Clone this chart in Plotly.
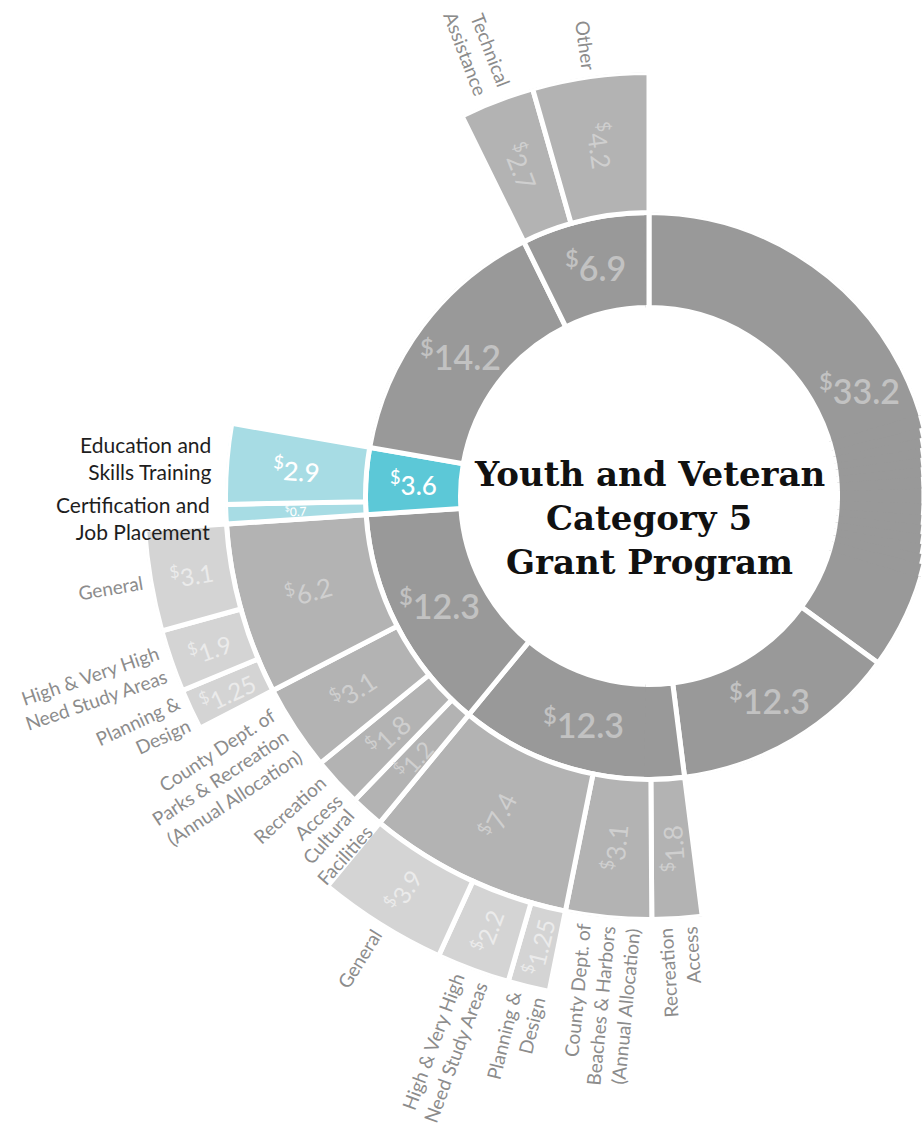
import math
import plotly.graph_objects as go

# ---------------- data ----------------
title_lines = ["Youth and Veteran", "Category 5", "Grant Program"]

# Level 1 - inner ring, clockwise from 12 o'clock ($ millions)
l1_values = [33.2, 12.3, 12.3, 12.3, 3.6, 14.2, 6.9]
l1_highlight = [0, 0, 0, 0, 1, 0, 0]

# Level 2 - children of level-1 segments (index of parent), clockwise
l2_parent = [2, 2, 2, 3, 3, 3, 3, 4, 4, 6, 6]
l2_values = [1.8, 3.1, 7.4, 1.2, 1.8, 3.1, 6.2, 0.7, 2.9, 2.7, 4.2]
l2_labels = [
    "Recreation<br>Access",
    "County Dept. of<br>Beaches & Harbors<br>(Annual Allocation)",
    "",
    "Cultural<br>Facilities",
    "Recreation<br>Access",
    "County Dept. of<br>Parks & Recreation<br>(Annual Allocation)",
    "",
    "Certification and<br>Job Placement",
    "Education and<br>Skills Training",
    "Technical<br>Assistance",
    "Other",
]

# Level 3 - children of level-2 segments (index of parent), clockwise
l3_parent = [2, 2, 2, 6, 6, 6]
l3_values = [1.25, 2.2, 3.9, 1.25, 1.9, 3.1]
l3_labels = [
    "Planning &<br>Design",
    "High & Very High<br>Need Study Areas",
    "General",
    "Planning &<br>Design",
    "High & Very High<br>Need Study Areas",
    "General",
]

# ---------------- geometry / style ----------------
W, H = 922, 1126
CX, CY = 649, 496
LINE_W = 5
RINGS = [(188.5, 283.5), (283.5, 423.5), (423.5, 505.5)]
VIS_OUT = [r[1] - LINE_W / 2 for r in RINGS]
GRAY = ["#999999", "#b3b3b3", "#d4d4d4"]
TEAL = ["#5cc8d7", "#a7dce4"]
VAL_COLOR = ["#c2c2c2", "#cfcfcf", "#ebebeb"]
VAL_SIZE = [34, 26, 24]
VAL_WEIGHT = [600, 400, 400]
LABEL_COLOR = "#8c8c8c"
LABEL_SIZE = 19
DARK_LABEL_SIZE = 21

# ---------------- angles from values ----------------
deg_per_unit = 360.0 / sum(l1_values)
l1_start, l1_span = [], []
acc = 0.0
for v in l1_values:
    l1_start.append(acc * deg_per_unit)
    l1_span.append(v * deg_per_unit)
    acc += v


def split(parents, values, p_start, p_span):
    tot = {}
    for p, v in zip(parents, values):
        tot[p] = tot.get(p, 0) + v
    used = {}
    st, sp = [], []
    for p, v in zip(parents, values):
        s = p_span[p] * v / tot[p]
        st.append(p_start[p] + used.get(p, 0.0))
        sp.append(s)
        used[p] = used.get(p, 0.0) + s
    return st, sp


l2_start, l2_span = split(l2_parent, l2_values, l1_start, l1_span)
l3_start, l3_span = split(l3_parent, l3_values, l2_start, l2_span)

l2_highlight = [l1_highlight[p] for p in l2_parent]
l3_highlight = [0 for _ in l3_parent]
l2_has_children = [i in l3_parent for i in range(len(l2_values))]

levels = [
    (l1_values, l1_start, l1_span, l1_highlight),
    (l2_values, l2_start, l2_span, l2_highlight),
    (l3_values, l3_start, l3_span, l3_highlight),
]


# ---------------- polar subplots (sectors keep everything inside the page) ----------------
def sector_bbox(s0, s1):
    arc = s1 - s0
    a0 = s0 % 360
    a1 = a0 + arc
    ax0, ay0 = math.cos(math.radians(a0)), math.sin(math.radians(a0))
    ax1, ay1 = math.cos(math.radians(a1)), math.sin(math.radians(a1))
    if (a0 <= 90 and a1 >= 90) or (a0 > 90 and a1 >= 450):
        y1 = 1
    elif ay0 <= 0 and ay1 <= 0:
        y1 = 0
    else:
        y1 = max(ay0, ay1)
    if (a0 <= 180 and a1 >= 180) or (a0 > 180 and a1 >= 540):
        x0 = -1
    elif ax0 >= 0 and ax1 >= 0:
        x0 = 0
    else:
        x0 = min(ax0, ax1)
    if (a0 <= 270 and a1 >= 270) or (a0 > 270 and a1 >= 630):
        y0 = -1
    elif ay0 >= 0 and ay1 >= 0:
        y0 = 0
    else:
        y0 = min(ay0, ay1)
    if a1 >= 360:
        x1 = 1
    elif ax0 <= 0 and ax1 <= 0:
        x1 = 0
    else:
        x1 = max(ax0, ax1)
    return x0, y0, x1, y1


RIGHT_LIMIT = W - CX - 0.6   # px available right of the centre
R1 = 284.0
polar_specs = [
    ([89, 271], R1, 0),
    ([16.5, 91], R1, 0),
    ([-91, -16.5], R1, 0),
    ([-2, 2], RIGHT_LIMIT, 0),
]
# thin slices near 3 o'clock so the inner ring runs right up to the page edge
edges = [1.5, 4, 6, 8, 10, 12, 14, 16.5]
for a, b in zip(edges[:-1], edges[1:]):
    Rs = min(R1, RIGHT_LIMIT / math.cos(math.radians(a)))
    polar_specs.append(([a, b + 0.3], Rs, 0))
    polar_specs.append(([-b - 0.3, -a], Rs, 0))
polar_specs += [
    ([89, 279], 424.0, 1),
    ([180, 270], 506.0, 2),
]

fig = go.Figure()
layout_polars = {}
for i, (sector, R, lvl) in enumerate(polar_specs):
    name = "polar" if i == 0 else "polar%d" % (i + 1)
    bx0, by0, bx1, by1 = sector_bbox(*sector)
    xd = [max(0.0, (CX + R * bx0) / W), min(1.0, (CX + R * bx1) / W)]
    top = CY - R * by1
    bot = CY - R * by0
    yd = [max(0.0, (H - bot) / H), min(1.0, (H - top) / H)]
    layout_polars[name] = dict(
        domain=dict(x=xd, y=yd),
        sector=sector,
        hole=0,
        bgcolor="rgba(0,0,0,0)",
        radialaxis=dict(visible=False, range=[0, R], autorange=False),
        angularaxis=dict(visible=False, rotation=90, direction="clockwise"),
    )
    vals, st, sp, hl = levels[lvl]
    rin, rout = RINGS[lvl]
    colors = [(TEAL[lvl] if hl[j] else GRAY[lvl]) for j in range(len(vals))]
    fig.add_trace(go.Barpolar(
        theta=[s + w / 2 for s, w in zip(st, sp)],
        width=sp,
        base=[rin] * len(vals),
        r=[rout - rin] * len(vals),
        marker=dict(color=colors, line=dict(color="white", width=LINE_W)),
        subplot=name,
        hoverinfo="skip",
        showlegend=False,
    ))

# cartesian overlay in pixel units centred on the ring centre (for text)
fig.add_trace(go.Scatter(x=[0], y=[0], mode="markers", marker=dict(size=1, opacity=0),
                         hoverinfo="skip", showlegend=False))


def inward_angle(th):
    t = math.radians(th)
    return math.degrees(math.atan2(math.cos(t), -math.sin(t)))


def text_width(s, size):
    w = 0.0
    for ch in s:
        if ch in "il.,:;|!'":
            w += 0.25
        elif ch in "ftjr()":
            w += 0.36
        elif ch == " ":
            w += 0.26
        elif ch in "mwMW":
            w += 0.85
        elif ch.isupper() or ch == "&":
            w += 0.66
        elif ch.isdigit():
            w += 0.58
        else:
            w += 0.52
    return w * size


annotations = []


def add_text(text, r, th, size, color, angle=0.0, family="Lato", weight=400,
             align="center", xanchor="center", dy=0.0):
    t = math.radians(th)
    annotations.append(dict(
        x=r * math.sin(t), y=r * math.cos(t) + dy, xref="x", yref="y",
        text=text, showarrow=False, textangle=angle,
        xanchor=xanchor, yanchor="middle", align=align,
        font=dict(family=family, size=size, color=color, weight=weight),
    ))


# value labels
for lvl, (vals, st, sp, hl) in enumerate(levels):
    rin, rout = RINGS[lvl]
    rmid = (rin + rout) / 2
    for j, v in enumerate(vals):
        th = st[j] + sp[j] / 2
        arc_px = math.radians(sp[j]) * rmid - LINE_W
        size = 26 if hl[j] else VAL_SIZE[lvl]
        size = min(size, max(12, arc_px))
        color = "white" if hl[j] else VAL_COLOR[lvl]
        weight = 500 if hl[j] else VAL_WEIGHT[lvl]
        angle = 0.0 if lvl == 0 else inward_angle(th)
        add_text("<sup>$</sup>%g" % v, rmid, th, size, color, angle, weight=weight)

# outer category labels
for lvl, (labels, st, sp, hl, has_ch) in enumerate([
    (l2_labels, l2_start, l2_span, l2_highlight, l2_has_children),
    (l3_labels, l3_start, l3_span, l3_highlight, [False] * len(l3_labels)),
]):
    ring = lvl + 1
    for j, lab in enumerate(labels):
        if not lab or has_ch[j]:
            continue
        th = st[j] + sp[j] / 2
        lines = lab.split("<br>")
        if hl[j]:
            # highlighted group: dark, horizontal, right-aligned against the ring
            r_end = VIS_OUT[ring] + 16
            w = max(text_width(s, DARK_LABEL_SIZE) for s in lines)
            add_text(lab, r_end + w / 2, th, DARK_LABEL_SIZE, "#1e1e1e", 0.0, weight=400,
                     align="right", xanchor="right", dy=0)
            annotations[-1]["x"] = r_end * math.sin(math.radians(th))
        else:
            w = max(text_width(s, LABEL_SIZE) for s in lines)
            r_end = VIS_OUT[ring] + 11
            add_text(lab, r_end + w / 2, th, LABEL_SIZE, LABEL_COLOR, inward_angle(th),
                     weight=400, align="right")

# centre title
for k, line in enumerate(title_lines):
    annotations.append(dict(
        x=0, y=22 - 44 * k, xref="x", yref="y", text=line, showarrow=False,
        xanchor="center", yanchor="middle",
        font=dict(family="DejaVu Serif", size=34, color="#111111", weight="bold"),
    ))

fig.update_layout(
    width=W, height=H, autosize=False,
    margin=dict(l=0, r=0, t=0, b=0),
    paper_bgcolor="white", plot_bgcolor="rgba(0,0,0,0)",
    showlegend=False,
    xaxis=dict(visible=False, range=[-CX, W - CX], autorange=False, domain=[0, 1], fixedrange=True),
    yaxis=dict(visible=False, range=[-(H - CY), CY], autorange=False, domain=[0, 1], fixedrange=True),
    annotations=annotations,
    **layout_polars,
)

fig.write_html("out.html", config={"displayModeBar": False},
               post_script="document.body.style.margin='0';")
